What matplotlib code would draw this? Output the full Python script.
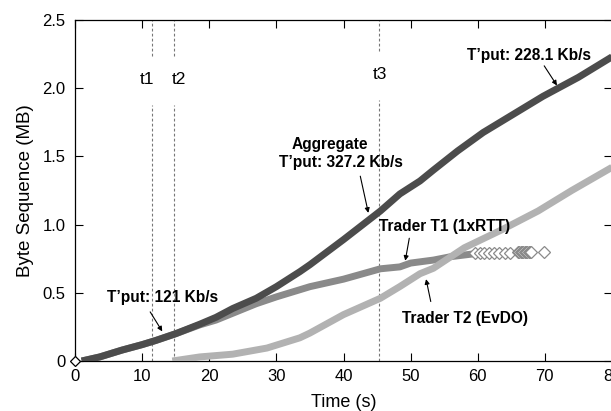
import numpy as np
import matplotlib.pyplot as plt

plt.rcParams['font.family'] = ['Liberation Sans', 'DejaVu Sans']

# aggregate sequence
agg_t = [1, 3.7, 7, 10, 12, 15, 18.6, 21, 23.5, 27, 30, 33.5, 35, 40, 45.5,
         48.4, 51.4, 53.4, 57, 60.8, 65, 69.7, 75, 80]
agg_mb = [0, 0.03, 0.08, 0.12, 0.15, 0.20, 0.27, 0.32, 0.385, 0.46, 0.545,
          0.655, 0.706, 0.89, 1.10, 1.225, 1.32, 1.40, 1.54, 1.675, 1.80,
          1.94, 2.08, 2.23]

# trader T1 (1xRTT)
t1_t = [1, 3.7, 7, 10, 12, 15, 18.6, 21, 23.5, 27, 30, 35, 40, 45.5, 48.4,
        50, 53.4, 56, 59.3]
t1_mb = [0, 0.03, 0.08, 0.12, 0.15, 0.20, 0.265, 0.30, 0.35, 0.42, 0.47,
         0.545, 0.60, 0.676, 0.69, 0.718, 0.74, 0.765, 0.785]
t1_tail_t = [59.6, 60.3, 61.0, 61.7, 62.4, 63.2, 64.0, 64.8, 66.0, 66.2,
             66.4, 66.6, 66.8, 67.0, 67.2, 67.4, 67.6, 67.8, 68.0, 69.8]
t1_tail_mb = [0.79, 0.79, 0.79, 0.79, 0.79, 0.79, 0.79, 0.79, 0.80, 0.80,
              0.80, 0.80, 0.80, 0.80, 0.80, 0.80, 0.80, 0.80, 0.80, 0.80]

# trader T2 (EvDO)
t2_t = [14.5, 18.6, 23.5, 28.6, 33.5, 35, 40, 45.5, 48.4, 51.4, 53.4, 58,
        63.5, 69, 74, 80]
t2_mb = [0, 0.03, 0.05, 0.095, 0.17, 0.205, 0.34, 0.46, 0.546, 0.64, 0.68,
         0.83, 0.96, 1.10, 1.25, 1.42]

events = ['t1', 't2', 't3']
event_t = [11.5, 14.7, 45.35]

fig = plt.figure(figsize=(6.11, 4.11), dpi=100)
ax = fig.add_axes([75 / 611, 50 / 411, 537 / 611, 341 / 411])

ax.plot(t1_t, t1_mb, color='#8a8a8a', lw=5, solid_capstyle='butt', zorder=2)
ax.plot(t1_tail_t, t1_tail_mb, ls='none', marker='D', ms=6, mfc='white',
        mec='#8a8a8a', mew=0.9, zorder=2)
ax.plot(t2_t, t2_mb, color='#b2b2b2', lw=5, solid_capstyle='butt', zorder=3)
ax.plot(agg_t, agg_mb, color='#4c4c4c', lw=5, solid_capstyle='butt', zorder=4)
ax.plot([0], [0], ls='none', marker='D', ms=5.5, mfc='white', mec='black',
        mew=0.9, zorder=5, clip_on=False)

# event markers
lab_y = [2.066, 2.066, 2.10]
lab_dx = [-0.8, 0.8, 0.15]
for name, t, ly, dx in zip(events, event_t, lab_y, lab_dx):
    ax.plot([t, t], [0, ly - 0.19], ls=(0, (2.5, 2)), color='#777777', lw=0.8, zorder=1)
    ax.plot([t, t], [ly + 0.17, 2.5], ls=(0, (2.5, 2)), color='#777777', lw=0.8, zorder=1)
    ax.text(t + dx, ly, name, ha='center', va='center', fontsize=12.5)

arrow = dict(arrowstyle='-|>', color='black', lw=0.8, mutation_scale=7,
             shrinkA=0, shrinkB=0)
bold = dict(fontsize=11.2, fontweight='bold', ha='center', va='center')
ax.annotate('', xy=(13.0, 0.217), xytext=(11.2, 0.36), arrowprops=arrow)
ax.text(13.0, 0.463, "T’put: 121 Kb/s", **bold)
ax.annotate('', xy=(43.7, 1.086), xytext=(42.5, 1.355), arrowprops=arrow)
ax.text(38.0, 1.588, 'Aggregate', **bold)
ax.text(39.6, 1.456, "T’put: 327.2 Kb/s", **bold)
ax.annotate('', xy=(71.8, 2.02), xytext=(69.9, 2.164), arrowprops=arrow)
ax.text(67.6, 2.243, "T’put: 228.1 Kb/s", **bold)
ax.annotate('', xy=(49.2, 0.735), xytext=(49.8, 0.90), arrowprops=arrow)
ax.text(55.0, 0.987, 'Trader T1 (1xRTT)', **bold)
ax.annotate('', xy=(52.3, 0.60), xytext=(53.0, 0.436), arrowprops=arrow)
ax.text(58.1, 0.315, 'Trader T2 (EvDO)', **bold)

ax.set_xlim(0, 80)
ax.set_ylim(0, 2.5)
ax.set_xticks(np.arange(0, 81, 10))
ax.set_yticks([0, 0.5, 1.0, 1.5, 2.0, 2.5])
ax.set_yticklabels(['0', '0.5', '1.0', '1.5', '2.0', '2.5'])
ax.tick_params(direction='in', top=True, right=True, length=5.5, width=0.8,
               labelsize=12, colors='black')
ax.tick_params(axis='x', pad=6)
ax.tick_params(axis='y', pad=7)
for sp in ax.spines.values():
    sp.set_linewidth(0.9)

ax.set_xlabel('Time (s)', fontsize=13, labelpad=7)
ax.set_ylabel('Byte Sequence (MB)', fontsize=13.5, labelpad=6)

fig.savefig('out.png', dpi=100)
